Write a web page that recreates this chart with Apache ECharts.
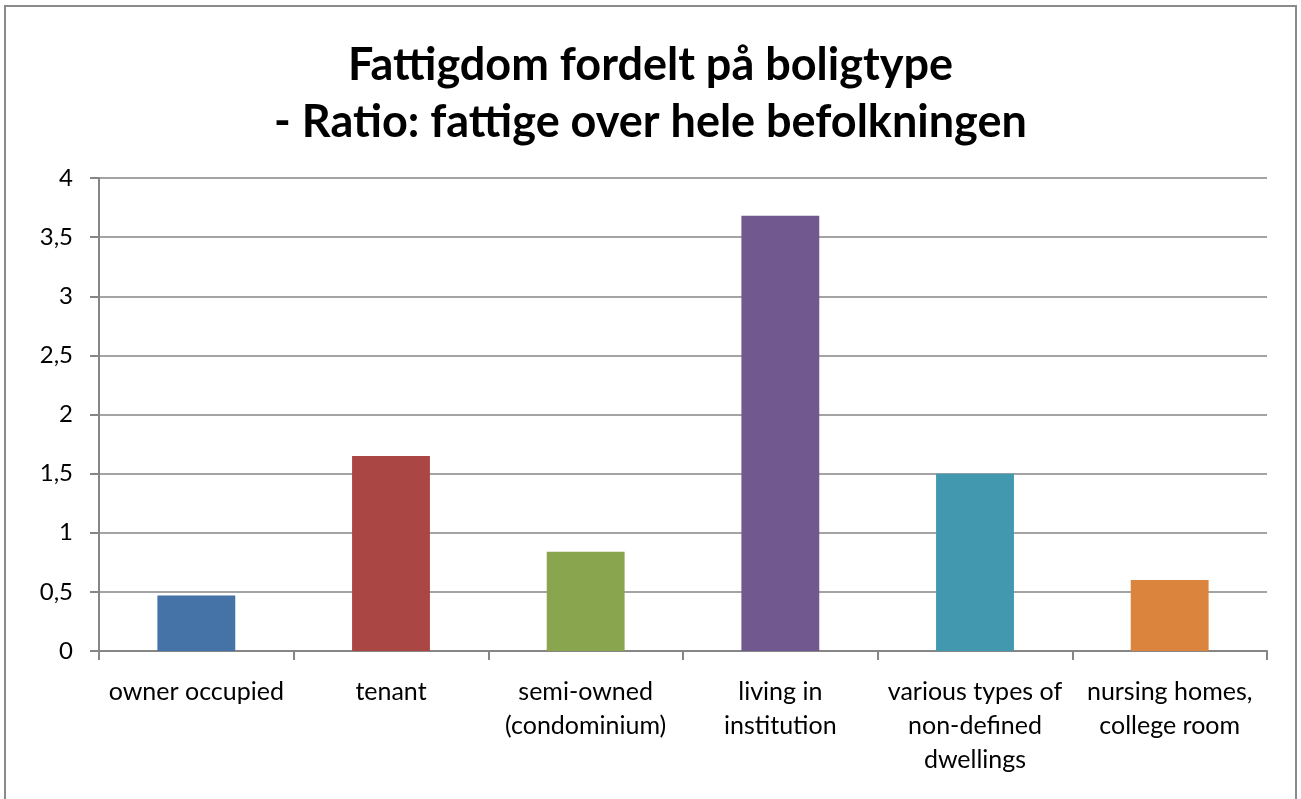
<!DOCTYPE html>
<html>
<head>
<meta charset="utf-8">
<style>
  html, body { margin: 0; padding: 0; background: #fff; }
  #chart { width: 1301px; height: 799px; }
</style>
<script src="https://cdn.jsdelivr.net/npm/echarts@6/dist/echarts.min.js"></script>
</head>
<body>
<div id="chart"></div>
<script>
var categories = [
  'owner occupied',
  'tenant',
  'semi-owned\n(condominium)',
  'living in\ninstitution',
  'various types of\nnon-defined\ndwellings',
  'nursing homes,\ncollege room'
];
var ratios = [0.47, 1.65, 0.84, 3.68, 1.5, 0.6];
var barColors = ['#4572A7', '#AA4643', '#89A54E', '#71588F', '#4198AF', '#DB843D'];

var font = 'Lato, "Open Sans", "Liberation Sans", sans-serif';
var gridColor = '#868686';

var chart = echarts.init(document.getElementById('chart'), null, { renderer: 'canvas' });
chart.setOption({
  animation: false,
  backgroundColor: '#fff',
  title: {
    text: 'Fattigdom fordelt på boligtype\n- Ratio: fattige over hele befolkningen',
    left: 'center',
    top: 32,
    textStyle: {
      fontFamily: font,
      fontSize: 45,
      fontWeight: 'bold',
      color: '#000',
      lineHeight: 57
    }
  },
  graphic: [{
    type: 'rect',
    shape: { x: 5, y: 6, width: 1291, height: 820 },
    style: { fill: 'none', stroke: '#8a8a8a', lineWidth: 2 },
    silent: true
  }],
  grid: { left: 99, right: 34, top: 178, bottom: 148 },
  xAxis: {
    type: 'category',
    data: categories,
    boundaryGap: true,
    axisLine: { lineStyle: { color: gridColor, width: 2 } },
    axisTick: { show: true, length: 9, lineStyle: { color: gridColor, width: 2 } },
    axisLabel: {
      interval: 0,
      margin: 24,
      color: '#000',
      fontFamily: font,
      fontSize: 25,
      lineHeight: 34
    }
  },
  yAxis: {
    type: 'value',
    min: 0,
    max: 4,
    interval: 0.5,
    axisLine: { show: true, lineStyle: { color: gridColor, width: 2 } },
    axisTick: { show: true, length: 9, lineStyle: { color: gridColor, width: 2 } },
    splitLine: { lineStyle: { color: gridColor, width: 1.5 } },
    axisLabel: {
      margin: 26,
      color: '#000',
      fontFamily: font,
      fontSize: 24,
      formatter: function(v) { return String(v).replace('.', ','); }
    }
  },
  series: [{
    type: 'bar',
    barWidth: '40%',
    data: ratios.map(function(v, i) {
      return { value: v, itemStyle: { color: barColors[i] } };
    })
  }]
});
</script>
</body>
</html>
